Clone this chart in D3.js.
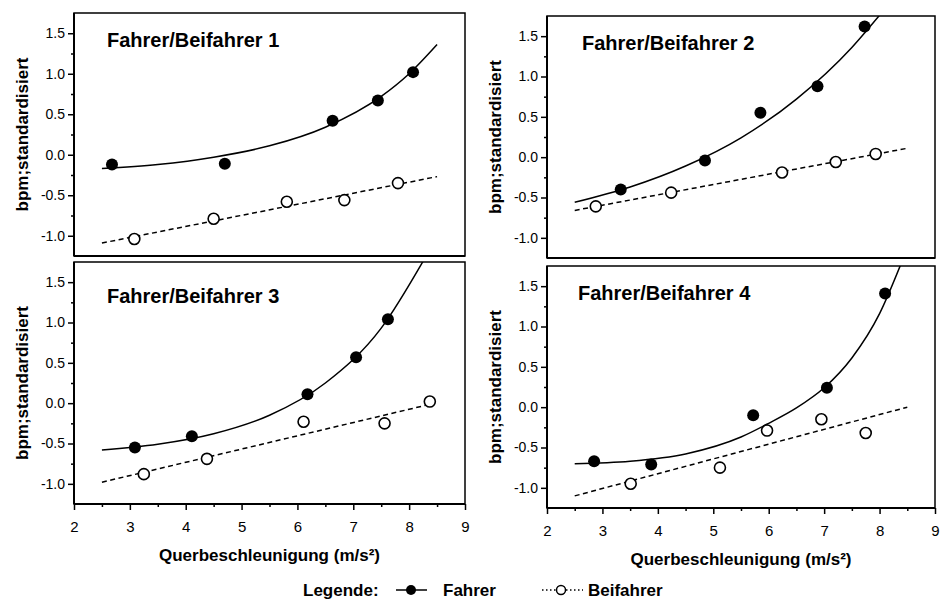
<!DOCTYPE html>
<html lang="de">
<head>
    <title>bpm standardisiert vs. Querbeschleunigung</title>
    <script src="https://d3js.org/d3.v7.min.js"></script>
    <style>
        body { margin: 0; background: #fff; }
        svg { font-family: "Liberation Sans", Arial, sans-serif; }
        .frame { fill: none; stroke: #000; stroke-width: 1.5px; }
        .axis path { display: none; }
        .axis line { stroke: #000; stroke-width: 1.5px; }
        .axis text { fill: #000; }
        .baseline { stroke: #000; stroke-width: 2px; }
        .fit { fill: none; stroke: #000; stroke-width: 1.5px; }
        .fit.dashed { stroke-dasharray: 5, 3.5; }
        .title { font-weight: bold; }
    </style>
</head>
<body>
    <svg id="chart" width="941" height="601"></svg>

    <script>
        var xTicks = [2, 3, 4, 5, 6, 7, 8, 9];
        var yTicks = [-1.0, -0.5, 0.0, 0.5, 1.0, 1.5];
        var yTickLabels = ["-1.0", "-0.5", "0.0", "0.5", "1.0", "1.5"];
        var panelTitles = ["Fahrer/Beifahrer 1", "Fahrer/Beifahrer 2", "Fahrer/Beifahrer 3", "Fahrer/Beifahrer 4"];

        // Fahrer/Beifahrer 1
        var fahrer1X = [2.68, 4.70, 6.63, 7.44, 8.07];
        var fahrer1Y = [-0.12, -0.11, 0.42, 0.67, 1.02];
        var beifahrer1X = [3.08, 4.50, 5.81, 6.84, 7.80];
        var beifahrer1Y = [-1.04, -0.79, -0.58, -0.56, -0.35];
        var kurve1X = [2.5, 3.5, 4.5, 5.5, 6.5, 7.5, 8.0, 8.5];
        var kurve1Y = [-0.17, -0.12, -0.03, 0.11, 0.34, 0.72, 1.0, 1.36];
        var gerade1X = [2.5, 8.5];
        var gerade1Y = [-1.09, -0.27];

        // Fahrer/Beifahrer 2
        var fahrer2X = [3.33, 4.85, 5.85, 6.88, 7.73];
        var fahrer2Y = [-0.40, -0.04, 0.55, 0.88, 1.62];
        var beifahrer2X = [2.88, 4.24, 6.24, 7.21, 7.93];
        var beifahrer2Y = [-0.61, -0.44, -0.19, -0.06, 0.04];
        var kurve2X = [2.5, 3.5, 4.5, 5.5, 6.5, 7.5, 8.0];
        var kurve2Y = [-0.56, -0.37, -0.11, 0.24, 0.72, 1.36, 1.76];
        var gerade2X = [2.5, 8.5];
        var gerade2Y = [-0.66, 0.11];

        // Fahrer/Beifahrer 3
        var fahrer3X = [3.09, 4.11, 6.18, 7.05, 7.62];
        var fahrer3Y = [-0.55, -0.41, 0.11, 0.57, 1.04];
        var beifahrer3X = [3.25, 4.38, 6.11, 7.56, 8.37];
        var beifahrer3Y = [-0.88, -0.69, -0.23, -0.25, 0.02];
        var kurve3X = [2.5, 3.5, 4.5, 5.5, 6.5, 7.5, 8.25];
        var kurve3Y = [-0.58, -0.51, -0.38, -0.15, 0.25, 0.93, 1.76];
        var gerade3X = [2.5, 8.4];
        var gerade3Y = [-0.98, -0.01];

        // Fahrer/Beifahrer 4
        var fahrer4X = [2.85, 3.88, 5.72, 7.05, 8.10];
        var fahrer4Y = [-0.67, -0.71, -0.10, 0.24, 1.41];
        var beifahrer4X = [3.51, 5.12, 5.97, 6.95, 7.75];
        var beifahrer4Y = [-0.95, -0.75, -0.29, -0.15, -0.32];
        var kurve4X = [2.5, 3.5, 4.5, 5.5, 6.0, 6.5, 7.0, 7.5, 8.0, 8.4];
        var kurve4Y = [-0.70, -0.67, -0.58, -0.37, -0.20, -0.01, 0.24, 0.61, 1.16, 1.80];
        var gerade4X = [2.5, 8.5];
        var gerade4Y = [-1.10, 0.0];

        function zip(xs, ys) {
            return xs.map(function (x, i) { return { x: x, y: ys[i] }; });
        }

        // layout of the four frames (pixels)
        var panels = [
            { left: 74, right: 465, top: 13, bottom: 256, xAxis: false, titleX: 33, titleY: 34,
              fahrer: zip(fahrer1X, fahrer1Y), beifahrer: zip(beifahrer1X, beifahrer1Y),
              kurve: zip(kurve1X, kurve1Y), gerade: zip(gerade1X, gerade1Y) },
            { left: 547, right: 935, top: 16, bottom: 258, xAxis: false, titleX: 35, titleY: 34,
              fahrer: zip(fahrer2X, fahrer2Y), beifahrer: zip(beifahrer2X, beifahrer2Y),
              kurve: zip(kurve2X, kurve2Y), gerade: zip(gerade2X, gerade2Y) },
            { left: 74, right: 465, top: 262, bottom: 504, xAxis: true, titleX: 33, titleY: 41,
              fahrer: zip(fahrer3X, fahrer3Y), beifahrer: zip(beifahrer3X, beifahrer3Y),
              kurve: zip(kurve3X, kurve3Y), gerade: zip(gerade3X, gerade3Y) },
            { left: 547, right: 935, top: 266, bottom: 508, xAxis: true, titleX: 31, titleY: 34,
              fahrer: zip(fahrer4X, fahrer4Y), beifahrer: zip(beifahrer4X, beifahrer4Y),
              kurve: zip(kurve4X, kurve4Y), gerade: zip(gerade4X, gerade4Y) }
        ];

        var svg = d3.select("#chart");

        panels.forEach(function (p, k) {
            var xScale = d3.scaleLinear().domain([2, 9]).range([p.left, p.right]);
            var yScale = d3.scaleLinear().domain([-1.25, 1.75]).range([p.bottom, p.top]);

            var g = svg.append("g");

            svg.append("clipPath")
                .attr("id", "clip" + k)
                .append("rect")
                .attr("x", p.left)
                .attr("y", p.top)
                .attr("width", p.right - p.left)
                .attr("height", p.bottom - p.top);

            // y axis, major + minor ticks
            g.append("g")
                .attr("class", "axis")
                .attr("transform", "translate(" + p.left + ",0)")
                .style("font-size", "14px")
                .call(d3.axisLeft(yScale)
                    .tickValues(yTicks)
                    .tickFormat(function (d, i) { return yTickLabels[i]; })
                    .tickSize(6)
                    .tickPadding(3));

            g.append("g")
                .attr("class", "axis")
                .attr("transform", "translate(" + p.left + ",0)")
                .call(d3.axisLeft(yScale)
                    .tickValues(d3.range(-0.75, 1.5, 0.5))
                    .tickFormat("")
                    .tickSize(3));

            if (p.xAxis) {
                g.append("g")
                    .attr("class", "axis")
                    .attr("transform", "translate(0," + p.bottom + ")")
                    .style("font-size", "15px")
                    .call(d3.axisBottom(xScale)
                        .tickValues(xTicks)
                        .tickFormat(d3.format("d"))
                        .tickSize(6)
                        .tickPadding(11));

                g.append("g")
                    .attr("class", "axis")
                    .attr("transform", "translate(0," + p.bottom + ")")
                    .call(d3.axisBottom(xScale)
                        .tickValues(d3.range(2.5, 9, 1))
                        .tickFormat("")
                        .tickSize(3));

                g.append("text")
                    .attr("class", "title")
                    .attr("x", (p.left + p.right) / 2)
                    .attr("y", p.bottom + 57)
                    .attr("text-anchor", "middle")
                    .style("font-size", "17px")
                    .text("Querbeschleunigung (m/s²)");
            }

            g.append("rect")
                .attr("class", "frame")
                .attr("x", p.left)
                .attr("y", p.top)
                .attr("width", p.right - p.left)
                .attr("height", p.bottom - p.top);

            g.append("line").attr("class", "baseline")
                .attr("x1", p.left).attr("x2", p.left)
                .attr("y1", p.top).attr("y2", p.bottom);
            g.append("line").attr("class", "baseline")
                .attr("x1", p.left).attr("x2", p.right)
                .attr("y1", p.bottom).attr("y2", p.bottom);

            g.append("text")
                .attr("class", "title")
                .attr("transform", "translate(" + (p.left - 46) + "," + ((p.top + p.bottom) / 2) + ") rotate(-90)")
                .attr("text-anchor", "middle")
                .style("font-size", "17px")
                .text("bpm;standardisiert");

            g.append("text")
                .attr("class", "title")
                .attr("x", p.left + p.titleX)
                .attr("y", p.top + p.titleY)
                .style("font-size", "20px")
                .text(panelTitles[k]);

            var line = d3.line()
                .x(function (d) { return xScale(d.x); })
                .y(function (d) { return yScale(d.y); });

            var plot = g.append("g").attr("clip-path", "url(#clip" + k + ")");

            plot.append("path")
                .datum(p.gerade)
                .attr("class", "fit dashed")
                .attr("d", line);

            plot.append("path")
                .datum(p.kurve)
                .attr("class", "fit")
                .attr("d", line.curve(d3.curveMonotoneX));

            plot.selectAll(".beifahrer")
                .data(p.beifahrer)
                .enter().append("circle")
                .attr("class", "beifahrer")
                .attr("cx", function (d) { return xScale(d.x); })
                .attr("cy", function (d) { return yScale(d.y); })
                .attr("r", 5.5)
                .attr("fill", "#fff")
                .attr("stroke", "#000")
                .attr("stroke-width", 1.6);

            plot.selectAll(".fahrer")
                .data(p.fahrer)
                .enter().append("circle")
                .attr("class", "fahrer")
                .attr("cx", function (d) { return xScale(d.x); })
                .attr("cy", function (d) { return yScale(d.y); })
                .attr("r", 6)
                .attr("fill", "#000");
        });

        // legend
        var legend = svg.append("g").attr("class", "title").style("font-size", "17px");
        var ly = 590;

        legend.append("text").attr("x", 303).attr("y", ly + 6).text("Legende:");

        legend.append("line")
            .attr("class", "fit")
            .attr("x1", 396).attr("x2", 427)
            .attr("y1", ly).attr("y2", ly);
        legend.append("circle")
            .attr("cx", 411).attr("cy", ly).attr("r", 5).attr("fill", "#000");
        legend.append("text").attr("x", 443).attr("y", ly + 6).text("Fahrer");

        legend.append("line")
            .attr("class", "fit")
            .style("stroke-dasharray", "1.5, 2.5")
            .attr("x1", 542).attr("x2", 583)
            .attr("y1", ly).attr("y2", ly);
        legend.append("circle")
            .attr("cx", 561).attr("cy", ly).attr("r", 4.5)
            .attr("fill", "#fff").attr("stroke", "#000").attr("stroke-width", 1.5);
        legend.append("text").attr("x", 588).attr("y", ly + 6).text("Beifahrer");
    </script>
</body>
</html>
